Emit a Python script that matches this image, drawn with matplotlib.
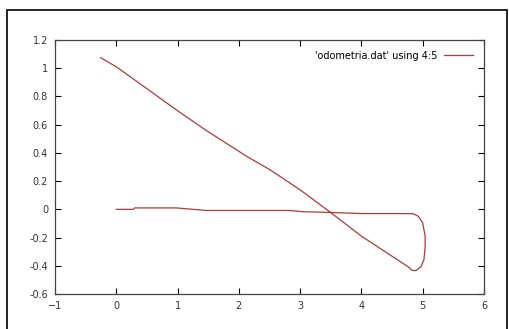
import matplotlib
matplotlib.use("Agg")
import matplotlib.pyplot as plt
from matplotlib.patches import Rectangle

# odometry path (columns 4:5)
x_pos = [0.0, 0.28, 0.30, 0.98, 1.47, 2.0, 2.83, 3.05, 3.49, 4.0, 4.6, 4.846,
         4.93, 5.0, 5.04, 5.04, 5.02, 4.97, 4.89, 4.825, 4.765, 4.0, 3.49,
         3.0, 2.51, 2.13, 1.45, 0.98, 0.5, 0.0, -0.255]
y_pos = [0.0, 0.0, 0.01, 0.01, -0.008, -0.008, -0.008, -0.017, -0.022, -0.03,
         -0.03, -0.031, -0.05, -0.097, -0.191, -0.262, -0.356, -0.408,
         -0.434, -0.432, -0.408, -0.19, -0.02, 0.138, 0.28, 0.375, 0.564,
         0.705, 0.855, 1.01, 1.075]

x_ticks = [-1, 0, 1, 2, 3, 4, 5, 6]
y_ticks = [-0.6, -0.4, -0.2, 0, 0.2, 0.4, 0.6, 0.8, 1, 1.2]
y_tick_labels = ["-0.6", "-0.4", "-0.2", "0", "0.2", "0.4", "0.6", "0.8", "1", "1.2"]

fig = plt.figure(figsize=(5.09, 3.29), dpi=100)
fig.patches.append(Rectangle((7 / 509, -0.05), 500 / 509, 1.05 - 10 / 329,
                             transform=fig.transFigure, fill=False,
                             edgecolor="black", linewidth=1.2))

ax = fig.add_axes([55 / 509, 1 - 294 / 329, 429 / 509, 254 / 329])
ax.plot(x_pos, y_pos, color="#b03a3a", linewidth=0.9,
        label="'odometria.dat' using 4:5")

ax.set_xlim(-1, 6)
ax.set_ylim(-0.6, 1.2)
ax.set_xticks(x_ticks)
ax.set_yticks(y_ticks)
ax.set_yticklabels(y_tick_labels)
ax.tick_params(direction="in", length=4, width=0.8, top=True, right=True,
               labelsize=7, labelcolor="#333333", pad=5)
for s in ax.spines.values():
    s.set_color("#444444")
    s.set_linewidth(0.9)

ax.legend(loc="upper right", frameon=False, fontsize=7, handlelength=3.0,
          handletextpad=0.7, markerfirst=False, borderaxespad=0.8,
          borderpad=0.3)

plt.savefig("out.png", dpi=100)
